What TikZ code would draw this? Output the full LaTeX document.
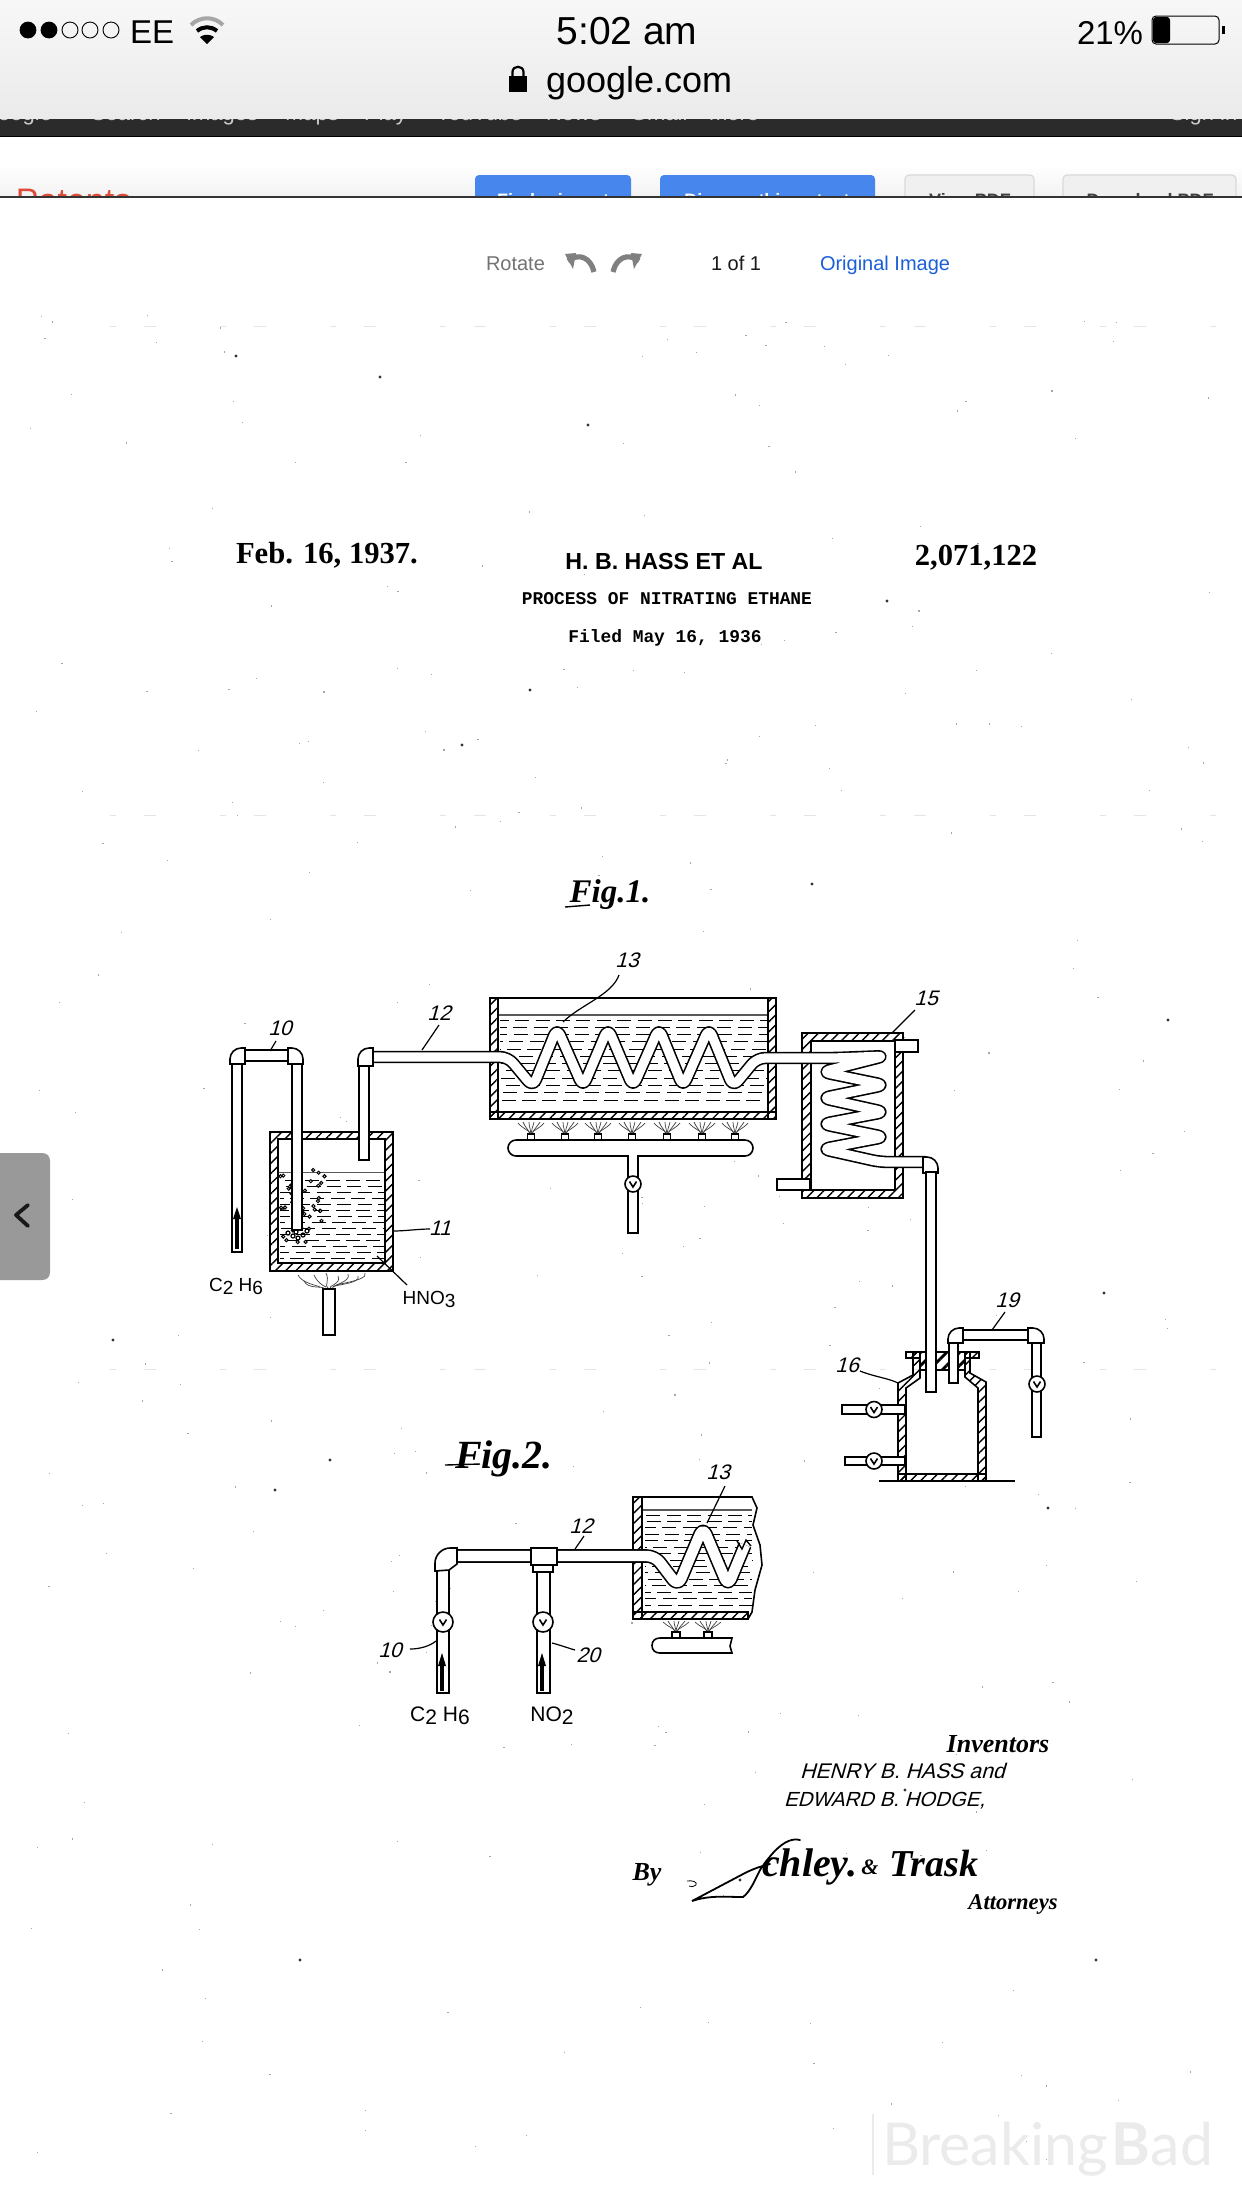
\documentclass[tikz,border=0pt]{standalone}
\usepackage{fontspec}
\usetikzlibrary{patterns.meta}
\setmainfont{Liberation Sans}
\newfontfamily\serifface{Liberation Serif}
\newfontfamily\monoface{Liberation Mono}
\newfontfamily\handface[FakeSlant=0.28]{Liberation Sans}
\newfontfamily\wmface{Lato}
\definecolor{barblue}{HTML}{4787ED}
\definecolor{patred}{HTML}{DD4B39}
\definecolor{linkblue}{HTML}{1A5FD8}
\newcommand{\fs}[1]{\fontsize{#1pt}{#1pt}\selectfont}
\newcommand{\myvalve}[3]{\draw[pipeb] (#1,#2) circle[radius=#3pt];
  \draw[line width=.8pt] (#1-3.5,#2-2.5) -- (#1,#2+3) -- (#1+3.5,#2-2.5);}
\newcommand{\elbowL}[4]{\draw[pipeb] (#1,#4) -- (#1,#2+11) .. controls (#1,#2+5) and (#1+5,#2) .. (#1+11,#2) -- (#3,#2) -- (#3,#4) -- cycle;}
\newcommand{\elbowR}[4]{\draw[pipeb] (#3,#4) -- (#3,#2+11) .. controls (#3,#2+5) and (#3-5,#2) .. (#3-11,#2) -- (#1,#2) -- (#1,#4) -- cycle;}
\newcommand{\myliquid}[5]{\foreach \k in {0,...,#5}{
  \pgfmathsetmacro\yyv{#3+(#4-#3)*\k/#5}
  \pgfmathsetmacro\phv{rnd*10}
  \draw[liq,dash phase=\phv pt] (#1,\yyv) -- (#2,\yyv);}}
\newcommand{\myflame}[3]{
  \draw[flame] (#1,#3) .. controls (#1-2,#3-4) and (#1-8,#3-5) .. (#1-13,#2+1);
  \draw[flame] (#1-1,#3) .. controls (#1-3,#3-5) and (#1-6,#3-7) .. (#1-8,#2);
  \draw[flame] (#1,#3) .. controls (#1,#3-4) and (#1-2,#3-7) .. (#1-2,#2);
  \draw[flame] (#1,#3) .. controls (#1,#3-4) and (#1+2,#3-7) .. (#1+3,#2);
  \draw[flame] (#1+1,#3) .. controls (#1+3,#3-5) and (#1+6,#3-7) .. (#1+9,#2);
  \draw[flame] (#1,#3) .. controls (#1+2,#3-4) and (#1+8,#3-5) .. (#1+13,#2+1);}
\newcommand{\myarrow}[4]{
  \fill (#1,#2) -- (#1-4,#3) -- (#1+4,#3) -- cycle;
  \draw[line width=1.6pt] (#1,#3) -- (#1,#4);}
\tikzset{
  pipeb/.style={draw=black,line width=.8pt,fill=white},
  wall/.style={draw=black,line width=.8pt,pattern={Lines[angle=45,distance=3.6pt,line width=.7pt]}},
  plug/.style={draw=black,line width=.8pt,pattern={Lines[angle=45,distance=4.6pt,line width=1.4pt]}},
  liq/.style={line width=.5pt,dash pattern=on 7pt off 3.2pt},
  flame/.style={line width=.35pt,black!75},
  coil/.style={draw=black,line width=.8pt,double=white,double distance=4.6pt,rounded corners=4pt,line join=round},
  leader/.style={line width=.6pt},
  txt/.style={inner sep=0pt,outer sep=0pt},
  num/.style={txt,font=\handface\fs{10.5}},
  chem/.style={txt,font=\fs{9.5}},
}
\begin{document}
\begin{tikzpicture}[x=.5pt,y=-.5pt]
\useasboundingbox (0,0) rectangle (1242,2208);
\fill[white] (0,0) rectangle (1242,2208);
% --- paper specks
\pgfmathsetseed{11}
\foreach \i in {1,...,300}{
  \pgfmathsetmacro\sx{rnd*1190+30}
  \pgfmathsetmacro\sy{rnd*1850+310}
  \fill[black!35] (\sx,\sy) rectangle (\sx+1.2,\sy+1.2);}
\foreach \p/\q in {588/425,380/377,812/884,1048/1508,1104/1293,887/601,236/356,530/690,462/745,1168/1020,113/1340,330/1460,905/1790,740/1880,1096/1960,300/1960,275/1490}{
  \fill[black!80] (\p,\q) circle[radius=.8pt];}
\foreach \yl in {326,815,1369}{
  \draw[black!10,line width=.4pt,dash pattern=on 3pt off 14pt on 6pt off 32pt] (110,\yl) -- (1230,\yl);}
% --- header text
\node[txt,anchor=base west,font=\serifface\bfseries\fs{15.3}] (feb) at (236,563) {Feb. 16, 1937.};
\node[txt,anchor=base,font=\bfseries\fs{11.6}] (hass) at (664,569) {H. B. HASS ET AL};
\node[txt,anchor=base,font=\serifface\bfseries\fs{15.3}] (numb) at (976,565) {2,071,122};
\node[txt,anchor=base,font=\monoface\bfseries\fs{8.95}] (proc) at (667,604) {PROCESS OF NITRATING ETHANE};
\node[txt,anchor=base,font=\monoface\bfseries\fs{8.95}] (filed) at (665,642) {Filed May 16, 1936};
\node[txt,anchor=base,font=\serifface\bfseries\itshape\fs{16.5}] (figa) at (610,902) {Fig.1.};
\node[txt,anchor=base,font=\serifface\bfseries\itshape\fs{20}] (figb) at (504,1468) {Fig.2.};
\draw[line width=.7pt] (565,907) -- (590,905);
\draw[line width=.7pt] (445,1465) -- (480,1464);
% --- vessel 11
\draw[pipeb] (270,1132) rectangle (393,1271);
\draw[line width=.9pt,black!65] (278,1172.5) -- (385,1172.5);
\myliquid{280}{384}{1180}{1258}{13}
\foreach \i in {1,...,40}{
  \pgfmathsetmacro\bx{rnd*45+280}
  \pgfmathsetmacro\by{1176+rnd*74-abs(\bx-298)*.4}
  \draw[line width=.5pt,fill=white] (\bx,\by) circle[radius=.8pt];}
\draw[wall,even odd rule] (270,1132) rectangle (393,1271) (278,1139) rectangle (385,1263);
\draw[pipeb] (292,1064) rectangle (302,1230);
\foreach \bb/\cc in {288/1233,293/1236,298/1238,303/1235,307/1231,296/1232}{
  \draw[line width=.6pt] (\bb,\cc) circle[radius=1pt];}
\draw[pipeb] (232,1063) rectangle (242,1252);
\myarrow{237}{1207}{1219}{1249}
\draw[pipeb] (245,1050) rectangle (288,1061);
\elbowL{230}{1048}{245}{1064}
\elbowR{288}{1048}{303}{1064}
\draw[pipeb] (359,1065) rectangle (369,1160);
% flame and feed under vessel 11
\foreach \ax/\ay/\bx/\by in {298/1275/320/1287,304/1281/324/1288,314/1275/326/1287,326/1273/328/1288,338/1276/331/1288,348/1274/333/1288,358/1276/334/1287,365/1273/336/1286}{
  \draw[flame] (\ax,\ay) .. controls (\ax+4,\ay+8) and (\bx-4,\by-2) .. (\bx,\by);}
\draw[pipeb] (323,1289) rectangle (335,1335);
% --- tank 13
\draw[pipeb] (490,998) rectangle (776,1119);
\draw[line width=.9pt,black!65] (498,1015) -- (768,1015);
\myliquid{500}{767}{1020}{1100}{11}
\draw[wall] (490,998) rectangle (498,1119);
\draw[wall] (768,998) rectangle (776,1119);
\draw[wall] (490,1112) rectangle (776,1119);
% --- burner bar
\foreach \bx in {531,565,598,632,667,702,735}{
  \myflame{\bx}{1122}{1134}
  \draw[pipeb] (\bx-3.5,1134) rectangle (\bx+3.5,1141);}
\draw[pipeb,rounded corners=4pt] (508,1140) rectangle (753,1156);
\draw[pipeb] (628,1156) rectangle (638,1233);
\fill[white] (629,1155) rectangle (637,1158);
\myvalve{633}{1184}{4}
% --- condenser 15
\draw[pipeb] (802,1033) rectangle (903,1198);
\draw[wall,even odd rule] (802,1033) rectangle (903,1198) (811,1041) rectangle (895,1190);
\draw[pipeb] (895,1040) rectangle (918,1052);
\draw[pipeb] (777,1179) rectangle (810,1190);
% --- coil through tank and condenser
\draw[coil] (372,1057) -- (508,1057) -- (533,1087) -- (557,1028) -- (583,1087) -- (608,1028) -- (633,1087) -- (659,1028) -- (683,1087) -- (709,1028) -- (733,1087) -- (757,1058) -- (835,1058) -- (885,1056) -- (822,1072) -- (885,1085) -- (822,1098) -- (885,1112) -- (822,1124) -- (885,1137) -- (822,1149) -- (880,1162) -- (925,1162);
\draw[pipeb] (926,1172) rectangle (936,1392);
\elbowR{923}{1157}{938}{1173}
\elbowL{358}{1048}{373}{1066}
% --- tank 16
\draw[wall] (898,1481) -- (898,1383) -- (913,1375) -- (913,1352) -- (920,1352) -- (920,1378) -- (906,1388) -- (906,1481) -- cycle;
\draw[wall] (986,1481) -- (986,1382) -- (970,1373) -- (970,1352) -- (965,1352) -- (965,1377) -- (978,1388) -- (978,1481) -- cycle;
\draw[wall] (898,1474) rectangle (986,1481);
\draw[wall] (906,1352) rectangle (920,1358);
\draw[wall] (965,1352) rectangle (979,1358);
\draw[plug] (920,1352) rectangle (965,1370);
\draw[pipeb] (926,1172) rectangle (936,1392);
\draw[pipeb] (949,1343) rectangle (958,1383);
\draw[pipeb] (963,1330) rectangle (1028,1340);
\elbowL{948}{1328}{963}{1343}
\elbowR{1028}{1328}{1044}{1343}
\draw[pipeb] (1032,1343) rectangle (1041,1437);
\myvalve{1037}{1384}{4}
\draw[pipeb] (842,1405) rectangle (905,1414);
\myvalve{874}{1409.5}{4}
\draw[pipeb] (845,1457) rectangle (905,1465);
\myvalve{874}{1461}{4}
\draw[line width=.9pt] (879,1481) -- (1015,1481);
% --- Figure 2 tank
\draw[pipeb] (633,1497) -- (752,1497) -- (757,1508) -- (753,1525) -- (760,1545) -- (762,1565) -- (755,1590) -- (752,1612) -- (748,1619) -- (633,1619) -- cycle;
\draw[line width=.9pt,black!65] (642,1510) -- (752,1510);
\myliquid{645}{752}{1515}{1605}{14}
\draw[wall] (633,1497) rectangle (642,1619);
\draw[wall] (633,1612) rectangle (748,1619);
\myflame{676}{1621}{1632}
\myflame{708}{1621}{1632}
\draw[pipeb] (672,1632) rectangle (680,1639);
\draw[pipeb] (704,1632) rectangle (712,1639);
\draw[pipeb] (732,1638) -- (660,1638) .. controls (655,1638) and (652,1641) .. (652,1645.5) .. controls (652,1650) and (655,1653) .. (660,1653) -- (732,1653) -- (730,1646) -- cycle;
\draw[coil,double distance=5.2pt] (456,1556) -- (655,1556) -- (678,1586) -- (703,1527) -- (728,1586) -- (745,1545);
\draw[line width=.7pt] (737,1541) -- (742,1549) -- (746,1540) -- (751,1546);
\draw[pipeb] (437,1570) rectangle (449,1693);
\myvalve{443}{1622}{5}
\myarrow{442}{1653}{1666}{1691}
\draw[pipeb] (435,1571) -- (435,1563) .. controls (435,1555) and (442,1548) .. (450,1548) -- (457,1548) -- (457,1564) -- (449,1570) -- cycle;
\draw[pipeb] (537,1571) rectangle (550,1693);
\myvalve{543}{1622}{5}
\myarrow{542}{1653}{1666}{1691}
\draw[pipeb] (533,1565) rectangle (553,1572);
\draw[pipeb] (531,1548) rectangle (557,1565);
% --- leaders
\draw[leader] (276,1041) -- (270,1051);
\draw[leader] (439,1025) -- (422,1050);
\draw[leader] (393,1231) .. controls (405,1231) and (418,1229) .. (430,1229);
\draw[leader] (407,1285) -- (377,1256);
\draw[leader] (619,975) .. controls (612,995) and (580,1005) .. (563,1022);
\draw[leader] (915,1010) -- (892,1033);
\draw[leader] (860,1371) .. controls (875,1377) and (888,1378) .. (898,1383);
\draw[leader] (1005,1312) -- (992,1330);
\draw[leader] (725,1486) -- (707,1523);
\draw[leader] (584,1536) -- (575,1549);
\draw[leader] (410,1649) .. controls (420,1649) and (430,1646) .. (436,1641);
\draw[leader] (552,1643) .. controls (560,1645) and (568,1648) .. (575,1650);
% --- numbers and chemical labels
\node[num,anchor=center] (l10) at (280,1028) {10};
\node[num,anchor=center] (l12) at (439,1013) {12};
\node[num,anchor=center] (l11) at (440,1228) {11};
\node[num,anchor=center] (l13) at (627,960) {13};
\node[num,anchor=center] (l15) at (926,998) {15};
\node[num,anchor=center] (l16) at (847,1365) {16};
\node[num,anchor=center] (l19) at (1007,1300) {19};
\node[num,anchor=center] (m13) at (718,1472) {13};
\node[num,anchor=center] (m12) at (581,1526) {12};
\node[num,anchor=center] (m10) at (390,1650) {10};
\node[num,anchor=center] (m20) at (588,1655) {20};
\node[chem,anchor=base] (c1) at (236,1291) {C\lower1.5pt\hbox{2} H\lower1.5pt\hbox{6}};
\node[chem,anchor=base] (h1) at (429,1304) {HNO\lower1.5pt\hbox{3}};
\node[chem,anchor=base,font=\fs{10.5}] (c2) at (440,1721) {C\lower1.5pt\hbox{2} H\lower1.5pt\hbox{6}};
\node[chem,anchor=base,font=\fs{10.5}] (n2) at (552,1721) {NO\lower1.5pt\hbox{2}};
% --- signatures
\node[txt,anchor=base,font=\serifface\itshape\bfseries\fs{13}] (inv) at (998,1752) {Inventors};
\node[txt,anchor=base west,font=\handface\fs{10.6}] (henry) at (800,1778) {HENRY B. HASS and};
\node[txt,anchor=base west,font=\handface\fs{10.2}] (edw) at (784,1806) {EDWARD B. HODGE,};
\node[txt,anchor=base,font=\serifface\bfseries\itshape\fs{13}] (by) at (647,1880) {By};
\draw[line width=.4pt] (687,1881) .. controls (692,1880) and (698,1882) .. (696,1885) .. controls (694,1887) and (691,1887) .. (689,1886);
\node[txt,anchor=base west,font=\serifface\itshape\bfseries\fs{20}] (sch) at (762,1876) {chley.};
\node[txt,anchor=center,font=\serifface\itshape\bfseries\fs{11}] (amp) at (870,1867) {\&};
\node[txt,anchor=base west,font=\serifface\itshape\bfseries\fs{19}] (tr) at (889,1876) {Trask};
\draw[line width=.9pt,line cap=round] (800,1840) .. controls (785,1836) and (770,1855) .. (760,1870) .. controls (755,1880) and (750,1892) .. (743,1897) .. controls (725,1897) and (710,1895) .. (692,1901) -- (745,1873) .. controls (755,1868) and (762,1866) .. (770,1864);
\node[txt,anchor=base,font=\serifface\itshape\bfseries\fs{11.3}] (att) at (1013,1909) {Attorneys};
% --- watermark
\fill[black!8] (872,2114) rectangle (874,2175);
\node[txt,anchor=base west,text=black!8,font=\wmface\fs{29.5}] (wm) at (882,2165) {Breaking\hspace{2pt}\textbf{B}ad};
% --- tab
\fill[black!40] (-10,1153) -- (42,1153) .. controls (47,1153) and (50,1156) .. (50,1161) -- (50,1272) .. controls (50,1277) and (47,1280) .. (42,1280) -- (-10,1280) -- cycle;
\draw[line width=1.9pt,black!90,line cap=round,line join=round] (28,1205) -- (16,1215) -- (28,1226);
% --- page controls
\node[txt,anchor=base west,text=black!55,font=\fs{10}] (rot) at (486,270) {Rotate};
\foreach \ox/\sg in {565/1,642/-1}{
  \draw[black!50,line width=2.6pt,line join=round] (\ox+\sg*3,261) .. controls (\ox+\sg*14,252) and (\ox+\sg*26,258) .. (\ox+\sg*29,272);
  \fill[black!50] (\ox,254) -- (\ox+\sg*11,253) -- (\ox+\sg*8,269) -- cycle;}
\node[txt,anchor=base west,text=black!90,font=\fs{10}] (pg) at (711,270) {1 of 1};
\node[txt,anchor=base west,text=linkblue,font=\fs{10}] (orig) at (820,270) {Original Image};
% --- browser chrome
\shade[top color=black!3,bottom color=black!8] (0,0) rectangle (1242,119);
\fill[black!83] (0,119) rectangle (1242,137);
\draw[black,line width=.8pt] (0,136.5) -- (1242,136.5);
\begin{scope}
  \clip (0,119) rectangle (1242,136);
  \foreach \tx/\ty in {91/Search,186/Images,285/Maps,364/Play,436/YouTube,546/News,630/Gmail,709/more,1170/Sign in}{
    \node[txt,anchor=base west,text=black!20,font=\fs{11}] at (\tx,120.5) {\ty};}
  \node[txt,anchor=base east,text=black!20,font=\fs{11}] (gg) at (52,120.5) {Google};
\end{scope}
\begin{scope}
  \clip (0,137) rectangle (1242,197);
  \shade[top color=white,bottom color=black!5] (0,165) rectangle (1242,197);
  \node[txt,anchor=base west,text=patred,font=\fs{17}] (pat) at (16,212) {Patents};
  \fill[barblue,rounded corners=2pt] (475,175) rectangle (631,210);
  \fill[barblue,rounded corners=2pt] (660,175) rectangle (875,210);
  \draw[black!15,fill=black!6,rounded corners=2pt,line width=.6pt] (905,175) rectangle (1034,210);
  \draw[black!15,fill=black!6,rounded corners=2pt,line width=.6pt] (1063,175) rectangle (1236,210);
  \node[txt,anchor=base,text=white,font=\bfseries\fs{9}] (b1) at (553,206) {Find prior art};
  \node[txt,anchor=base,text=white,font=\bfseries\fs{9}] (b2) at (767,206) {Discuss this patent};
  \node[txt,anchor=base,text=black!75,font=\bfseries\fs{9}] (b3) at (970,206) {View PDF};
  \node[txt,anchor=base,text=black!75,font=\bfseries\fs{9}] (b4) at (1150,206) {Download PDF};
\end{scope}
\fill[black!80] (0,196) rectangle (1242,198);
% status bar
\foreach \dx in {28,49}{\fill (\dx,30) circle[radius=4.2pt];}
\foreach \dx in {70,90,111}{\draw[line width=.45pt] (\dx,30) circle[radius=4pt];}
\node[txt,anchor=base west,font=\fs{16.5}] (ee) at (130,43) {EE};
\draw[black!35,line width=2pt] (191,25) .. controls (200,16) and (214,16) .. (223,25);
\draw[line width=2pt] (197,31) .. controls (203,26) and (211,26) .. (217,31);
\fill (200,37) .. controls (204,34) and (210,34) .. (214,37) -- (207,44) -- cycle;
\node[txt,anchor=base,font=\fs{19.5}] (time) at (627,44) {5:02 am};
\fill (509,76) rectangle (527,92);
\draw[line width=1.1pt] (512.5,76) -- (512.5,72) .. controls (512.5,65) and (523.5,65) .. (523.5,72) -- (523.5,76);
\node[txt,anchor=base west,font=\fs{18}] (goo) at (546,92) {google.com};
\node[txt,anchor=base west,font=\fs{16.5}] (pc) at (1077,44) {21\%};
\draw[line width=.5pt,rounded corners=2pt] (1152,16) rectangle (1219,44);
\fill[rounded corners=1.5pt] (1153,17) rectangle (1170,43);
\fill (1222,26) rectangle (1225,34);
\end{tikzpicture}
\end{document}
